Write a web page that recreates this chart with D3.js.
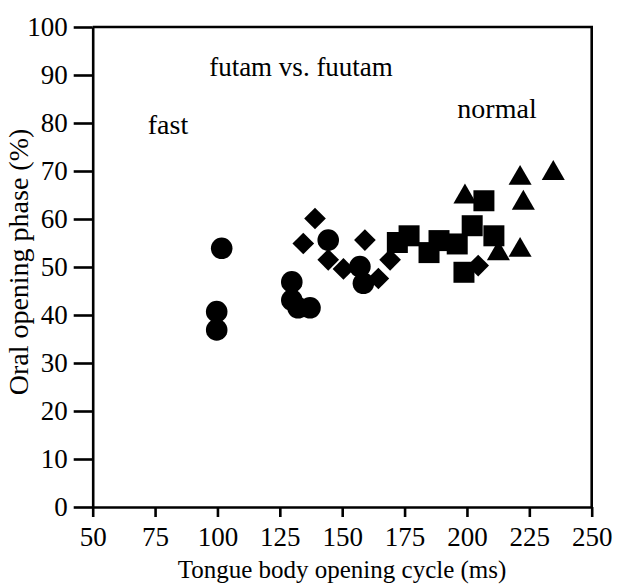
<!DOCTYPE html>
<html>
<head>
<meta charset="utf-8">
<script src="https://cdn.jsdelivr.net/npm/d3@7"></script>
<style>
  body { margin: 0; background: #fff; }
  svg text { font-family: "Liberation Serif", "DejaVu Serif", serif; fill: #000; }
  .axis path, .axis line { stroke: #000; stroke-width: 2.6px; }
</style>
</head>
<body>
<div id="chart"></div>
<script>
// Data: [cycle (ms), oral opening phase (%)]
const circles = [[101.7, 53.9], [99.7, 40.7], [99.7, 36.9], [129.8, 46.9], [129.8, 43.1],
  [132.3, 41.5], [137.1, 41.5], [144.4, 55.6], [157.1, 50.1], [158.5, 46.6]]
const diamonds = [[139.1, 60.1], [134.4, 54.9], [144.4, 51.5], [150.5, 49.6], [159.1, 55.6],
  [164.5, 47.6], [169.2, 51.5], [204.5, 50.3]]
const squares = [[172.1, 55.1], [176.8, 56.5], [184.8, 53.0], [188.8, 55.5], [196.1, 54.8],
  [202.1, 58.6], [206.8, 63.8], [210.8, 56.5], [198.8, 48.9]]
const triangles = [[199.2, 64.6], [221.3, 68.5], [234.6, 69.5], [222.6, 63.3], [212.6, 52.8],
  [221.3, 53.5]]
const xTicks = [50, 75, 100, 125, 150, 175, 200, 225, 250]
const yTicks = [0, 10, 20, 30, 40, 50, 60, 70, 80, 90, 100]

// Dimensions
const width = 618
const height = 584
const plotLeft = 92.7, plotRight = 591.7, plotTop = 27, plotBottom = 507

const svg = d3.select("#chart")
  .append("svg")
    .attr("width", width)
    .attr("height", height)

const x = d3.scaleLinear().domain([50, 250]).range([plotLeft, plotRight])
const y = d3.scaleLinear().domain([0, 100]).range([plotBottom, plotTop])

// frame (top and right edges)
svg.append("path")
    .attr("d", `M${plotLeft},${plotTop}H${plotRight}V${plotBottom}`)
    .attr("fill", "none")
    .attr("stroke", "#000")
    .attr("stroke-width", 2.6)

const xAxis = svg.append("g")
    .attr("class", "axis")
    .attr("transform", `translate(0,${plotBottom})`)
    .call(d3.axisBottom(x).tickValues(xTicks).tickSize(10).tickPadding(10).tickSizeOuter(0))
xAxis.selectAll("text").style("font-size", "27px")

const yAxis = svg.append("g")
    .attr("class", "axis")
    .attr("transform", `translate(${plotLeft},0)`)
    .call(d3.axisLeft(y).tickValues(yTicks).tickSize(19).tickPadding(6).tickSizeOuter(0))
yAxis.selectAll("text").style("font-size", "27px")

// markers
function plotSeries(data, type, size, rotate) {
  svg.selectAll(null)
      .data(data)
      .enter().append("path")
      .attr("d", d3.symbol().type(type).size(size))
      .attr("transform", function(d) {
        return `translate(${x(d[0])},${y(d[1])})` + (rotate ? " rotate(45)" : "")
      })
      .attr("fill", "#000")
}
plotSeries(circles, d3.symbolCircle, 366, false)
plotSeries(diamonds, d3.symbolSquare, 235, true)
plotSeries(squares, d3.symbolSquare, 441, false)
plotSeries(triangles, d3.symbolTriangle, 230, false)

// labels
svg.append("text")
    .attr("x", 301).attr("y", 76)
    .attr("text-anchor", "middle")
    .style("font-size", "27px")
    .text("futam vs. fuutam")

svg.append("text")
    .attr("x", 168).attr("y", 134)
    .attr("text-anchor", "middle")
    .style("font-size", "28px")
    .text("fast")

svg.append("text")
    .attr("x", 497).attr("y", 118)
    .attr("text-anchor", "middle")
    .style("font-size", "28px")
    .text("normal")

svg.append("text")
    .attr("x", 342).attr("y", 578)
    .attr("text-anchor", "middle")
    .style("font-size", "25px")
    .text("Tongue body opening cycle (ms)")

svg.append("text")
    .attr("transform", "translate(28,262) rotate(-90)")
    .attr("text-anchor", "middle")
    .style("font-size", "28px")
    .text("Oral opening phase (%)")
</script>
</body>
</html>
